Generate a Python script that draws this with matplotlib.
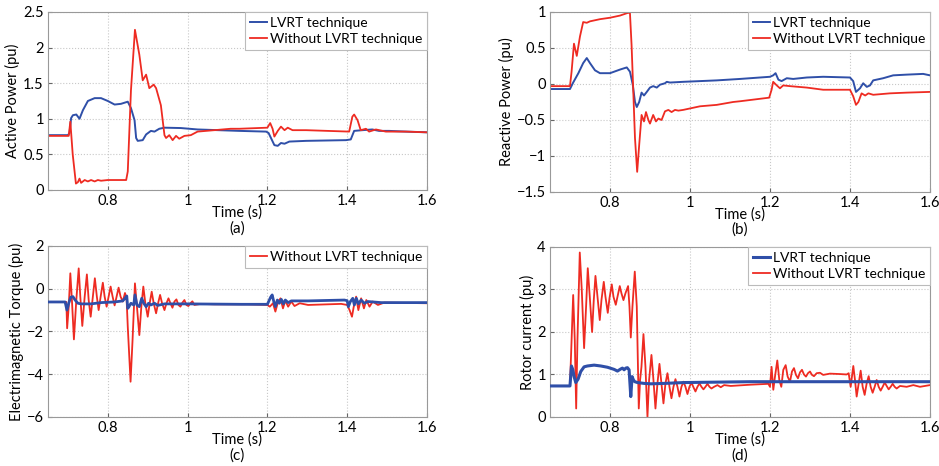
import numpy as np
import matplotlib
matplotlib.use("Agg")
import matplotlib.pyplot as plt

plt.rcParams['font.family'] = ['Lato', 'DejaVu Sans']

# (time s, value pu)
active_lvrt = [(0.65, 0.77), (0.70, 0.77), (0.704, 0.80), (0.708, 1.01), (0.7125, 1.05), (0.721, 1.06),
               (0.725, 1.03), (0.729, 1.00), (0.7375, 1.12), (0.75, 1.25), (0.767, 1.29), (0.783, 1.29),
               (0.80, 1.25), (0.817, 1.20), (0.833, 1.21), (0.85, 1.24), (0.858, 1.15), (0.867, 0.98),
               (0.871, 0.73), (0.875, 0.69), (0.8875, 0.70), (0.896, 0.78), (0.908, 0.83), (0.917, 0.82),
               (0.929, 0.86), (0.942, 0.875), (0.983, 0.87), (1.025, 0.85), (1.13, 0.83), (1.197, 0.82),
               (1.203, 0.80), (1.209, 0.73), (1.2175, 0.63), (1.226, 0.62), (1.234, 0.66), (1.243, 0.65),
               (1.255, 0.68), (1.297, 0.69), (1.397, 0.70), (1.409, 0.71), (1.4175, 0.83), (1.438, 0.84),
               (1.463, 0.85), (1.48, 0.83), (1.505, 0.83), (1.547, 0.82), (1.60, 0.81)]
active_none = [(0.65, 0.76), (0.702, 0.76), (0.706, 0.96), (0.712, 0.50), (0.72, 0.09), (0.725, 0.11),
               (0.729, 0.16), (0.733, 0.10), (0.742, 0.14), (0.75, 0.12), (0.758, 0.14), (0.767, 0.12),
               (0.775, 0.14), (0.783, 0.13), (0.80, 0.14), (0.83, 0.14), (0.846, 0.14), (0.85, 0.26),
               (0.858, 1.40), (0.868, 2.25), (0.879, 1.90), (0.8875, 1.54), (0.896, 1.62), (0.904, 1.43),
               (0.915, 1.48), (0.921, 1.43), (0.933, 1.19), (0.942, 0.77), (0.946, 0.73), (0.954, 0.77),
               (0.9625, 0.70), (0.971, 0.76), (0.979, 0.72), (0.992, 0.76), (1.008, 0.77), (1.025, 0.82),
               (1.067, 0.84), (1.108, 0.86), (1.13, 0.86), (1.20, 0.875), (1.207, 0.94), (1.213, 0.86),
               (1.2175, 0.75), (1.226, 0.83), (1.234, 0.89), (1.243, 0.84), (1.251, 0.875), (1.263, 0.84),
               (1.297, 0.84), (1.405, 0.82), (1.413, 1.03), (1.4175, 1.06), (1.426, 0.98), (1.434, 0.84),
               (1.447, 0.86), (1.455, 0.82), (1.472, 0.85), (1.497, 0.82), (1.547, 0.82), (1.60, 0.81)]

reactive_lvrt = [(0.65, -0.07), (0.70, -0.07), (0.708, 0.02), (0.721, 0.15), (0.733, 0.29), (0.742, 0.36),
                 (0.75, 0.29), (0.7625, 0.19), (0.775, 0.15), (0.80, 0.15), (0.825, 0.20), (0.842, 0.23),
                 (0.85, 0.17), (0.857, -0.01), (0.8625, -0.25), (0.867, -0.32), (0.873, -0.25), (0.879, -0.12),
                 (0.885, -0.16), (0.892, -0.11), (0.90, -0.05), (0.908, -0.03), (0.917, -0.05), (0.925, -0.01),
                 (0.9375, 0.01), (0.942, 0.03), (0.95, 0.02), (0.983, 0.03), (1.025, 0.04), (1.067, 0.05),
                 (1.125, 0.07), (1.20, 0.10), (1.208, 0.12), (1.214, 0.15), (1.221, 0.06), (1.229, 0.04),
                 (1.242, 0.08), (1.258, 0.07), (1.292, 0.09), (1.333, 0.10), (1.40, 0.09), (1.408, 0.04),
                 (1.415, -0.11), (1.425, -0.06), (1.433, 0.01), (1.442, -0.04), (1.45, -0.02), (1.458, 0.05),
                 (1.483, 0.08), (1.508, 0.12), (1.542, 0.13), (1.583, 0.14), (1.60, 0.12)]
reactive_none = [(0.65, -0.03), (0.70, -0.03), (0.704, 0.17), (0.71, 0.56), (0.717, 0.39), (0.725, 0.66),
                 (0.733, 0.86), (0.742, 0.85), (0.75, 0.87), (0.775, 0.90), (0.80, 0.92), (0.825, 0.95),
                 (0.846, 0.99), (0.85, 0.98), (0.854, 0.54), (0.858, -0.06), (0.8625, -0.75), (0.868, -1.22),
                 (0.873, -0.85), (0.879, -0.43), (0.885, -0.52), (0.89, -0.39), (0.896, -0.50), (0.90, -0.55),
                 (0.908, -0.43), (0.915, -0.52), (0.921, -0.48), (0.929, -0.50), (0.9375, -0.38), (0.946, -0.36),
                 (0.954, -0.39), (0.9625, -0.36), (0.971, -0.37), (0.983, -0.36), (1.025, -0.31), (1.067, -0.29),
                 (1.108, -0.25), (1.125, -0.24), (1.198, -0.19), (1.204, -0.08), (1.208, 0.03), (1.217, -0.02),
                 (1.225, -0.06), (1.233, -0.02), (1.25, -0.03), (1.292, -0.05), (1.333, -0.08), (1.40, -0.08),
                 (1.408, -0.17), (1.415, -0.29), (1.421, -0.25), (1.429, -0.13), (1.438, -0.16), (1.446, -0.13),
                 (1.458, -0.15), (1.50, -0.13), (1.542, -0.12), (1.60, -0.11)]

torque_lvrt = [(0.65, -0.62), (0.693, -0.62), (0.6975, -1.00), (0.702, -0.68), (0.707, -0.40), (0.7125, -0.37),
               (0.718, -0.53), (0.725, -0.68), (0.733, -0.71), (0.758, -0.71), (0.783, -0.65), (0.817, -0.62),
               (0.8375, -0.57), (0.843, -0.45), (0.8475, -0.34), (0.85, -0.92), (0.853, -0.84), (0.858, -0.68),
               (0.865, -0.76), (0.868, -0.29), (0.873, -0.76), (0.879, -0.84), (0.885, -0.45), (0.89, -0.68),
               (0.896, -0.84), (0.902, -0.68), (0.908, -0.76), (0.917, -0.68), (0.925, -0.78), (0.942, -0.71),
               (1.0, -0.71), (1.135, -0.73), (1.20, -0.73), (1.208, -0.40), (1.212, -0.29), (1.216, -0.60),
               (1.22, -0.84), (1.225, -0.53), (1.23, -0.68), (1.235, -0.50), (1.24, -0.71), (1.245, -0.53),
               (1.252, -0.65), (1.26, -0.57), (1.302, -0.57), (1.393, -0.53), (1.40, -0.56), (1.403, -0.84),
               (1.408, -0.60), (1.414, -0.45), (1.418, -0.76), (1.423, -0.45), (1.428, -0.71), (1.435, -0.53),
               (1.443, -0.68), (1.452, -0.60), (1.485, -0.65), (1.60, -0.65)]
torque_none = [(0.65, -0.62), (0.696, -0.62), (0.698, -1.85), (0.702, -0.84), (0.706, 0.72), (0.71, -0.53),
               (0.715, -2.37), (0.721, -0.53), (0.727, 0.95), (0.731, -0.37), (0.736, -1.74), (0.742, -0.37),
               (0.7475, 0.67), (0.752, -0.53), (0.757, -1.31), (0.7625, -0.37), (0.7675, 0.49), (0.7725, -0.37),
               (0.777, -1.00), (0.782, -0.37), (0.7875, 0.28), (0.792, -0.37), (0.797, -0.84), (0.802, -0.37),
               (0.807, 0.10), (0.812, -0.37), (0.817, -0.78), (0.822, -0.37), (0.827, 0.05), (0.832, -0.37),
               (0.8375, -0.60), (0.843, -0.20), (0.847, -0.45), (0.85, -1.78), (0.857, -4.35), (0.862, -2.40),
               (0.868, 0.25), (0.873, -0.84), (0.879, -2.17), (0.884, -0.84), (0.889, 0.10), (0.894, -0.68),
               (0.90, -1.31), (0.905, -0.68), (0.91, -0.14), (0.915, -0.68), (0.921, -1.15), (0.926, -0.68),
               (0.931, -0.29), (0.936, -0.68), (0.942, -1.00), (0.947, -0.68), (0.952, -0.45), (0.957, -0.68),
               (0.962, -0.89), (0.967, -0.60), (0.972, -0.50), (0.977, -0.76), (0.982, -0.84), (0.987, -0.65),
               (0.992, -0.53), (0.997, -0.76), (1.002, -0.81), (1.007, -0.68), (1.012, -0.59), (1.017, -0.76),
               (1.033, -0.71), (1.067, -0.73), (1.15, -0.73), (1.20, -0.76), (1.206, -0.84), (1.214, -0.68),
               (1.22, -1.07), (1.227, -0.60), (1.233, -0.45), (1.239, -0.92), (1.245, -0.56), (1.252, -0.84),
               (1.26, -0.60), (1.268, -0.81), (1.281, -0.68), (1.302, -0.76), (1.385, -0.71), (1.40, -0.76),
               (1.406, -1.00), (1.412, -1.31), (1.418, -0.68), (1.4225, -0.37), (1.428, -1.00), (1.435, -0.45),
               (1.442, -0.92), (1.448, -0.53), (1.456, -0.84), (1.464, -0.60), (1.477, -0.76), (1.493, -0.65),
               (1.60, -0.68)]

rotor_lvrt = [(0.65, 0.73), (0.70, 0.73), (0.7037, 1.20), (0.7072, 1.11), (0.7103, 0.95), (0.7145, 0.81),
              (0.7203, 0.89), (0.727, 1.07), (0.7353, 1.18), (0.7437, 1.20), (0.7603, 1.22), (0.777, 1.20),
              (0.7937, 1.17), (0.8103, 1.12), (0.8187, 1.08), (0.827, 1.13), (0.8312, 1.15), (0.8353, 1.11),
              (0.8395, 1.15), (0.8437, 1.16), (0.8478, 1.11), (0.852, 0.48), (0.8553, 0.95), (0.8587, 0.87),
              (0.862, 0.83), (0.8687, 0.81), (0.8853, 0.79), (0.902, 0.78), (0.9353, 0.79), (0.9853, 0.81),
              (1.152, 0.83), (1.40, 0.83), (1.60, 0.83)]
rotor_none = [(0.65, 0.73), (0.70, 0.73), (0.704, 1.81), (0.708, 2.87), (0.712, 1.81), (0.7155, 0.20),
              (0.7187, 1.81), (0.7245, 3.87), (0.7295, 2.99), (0.7353, 1.62), (0.7403, 2.60), (0.7445, 3.50),
              (0.7495, 2.83), (0.7553, 2.00), (0.7595, 2.75), (0.7637, 3.32), (0.7687, 2.83), (0.7745, 2.28),
              (0.7787, 2.75), (0.7845, 3.18), (0.7887, 2.83), (0.7945, 2.45), (0.7987, 2.79), (0.8045, 3.12),
              (0.8087, 2.83), (0.8145, 2.64), (0.8187, 2.83), (0.8245, 3.08), (0.8287, 2.91), (0.8337, 2.75),
              (0.8387, 2.91), (0.8453, 3.08), (0.8487, 2.60), (0.852, 1.87), (0.8562, 2.60), (0.862, 3.42),
              (0.867, 2.60), (0.872, 0.20), (0.8753, 0.87), (0.8787, 1.18), (0.8837, 1.95), (0.8887, 1.18),
              (0.8937, 0.00), (0.8978, 0.87), (0.9037, 1.46), (0.9087, 0.87), (0.9137, 0.20), (0.9187, 0.79),
              (0.9237, 1.25), (0.9287, 0.79), (0.9337, 0.32), (0.9387, 0.79), (0.9437, 1.03), (0.9487, 0.71),
              (0.9537, 0.44), (0.9587, 0.71), (0.9637, 0.89), (0.9687, 0.71), (0.9737, 0.48), (0.9787, 0.71),
              (0.9837, 0.83), (0.9887, 0.71), (0.9937, 0.54), (0.9987, 0.71), (1.0037, 0.81), (1.0087, 0.70),
              (1.0137, 0.60), (1.0187, 0.71), (1.0237, 0.79), (1.0287, 0.71), (1.0337, 0.65), (1.0387, 0.71),
              (1.0437, 0.78), (1.0487, 0.71), (1.0537, 0.67), (1.0603, 0.71), (1.0687, 0.75), (1.077, 0.70),
              (1.0853, 0.75), (1.102, 0.73), (1.152, 0.76), (1.196, 0.78), (1.20, 0.71), (1.204, 1.18),
              (1.2083, 0.64), (1.2125, 0.95), (1.2183, 1.33), (1.2233, 0.87), (1.2283, 0.71), (1.2333, 1.11),
              (1.2392, 1.22), (1.2442, 0.95), (1.25, 0.83), (1.255, 1.07), (1.26, 1.15), (1.265, 0.99),
              (1.27, 0.91), (1.275, 1.05), (1.28, 1.11), (1.285, 1.00), (1.29, 0.95), (1.295, 1.03),
              (1.30, 1.07), (1.305, 0.99), (1.31, 0.96), (1.3167, 1.03), (1.325, 1.04), (1.333, 0.99),
              (1.35, 1.02), (1.375, 1.01), (1.3917, 1.00), (1.3967, 1.03), (1.4017, 0.71), (1.4083, 1.20),
              (1.4125, 0.87), (1.4167, 0.48), (1.4217, 0.79), (1.4267, 1.09), (1.4317, 0.71), (1.4367, 0.52),
              (1.4417, 0.79), (1.4467, 0.96), (1.4517, 0.71), (1.4567, 0.57), (1.4617, 0.71), (1.4667, 0.87),
              (1.4717, 0.71), (1.4767, 0.62), (1.4817, 0.71), (1.4867, 0.81), (1.4917, 0.73), (1.4967, 0.65),
              (1.5017, 0.71), (1.5067, 0.78), (1.5117, 0.71), (1.5167, 0.67), (1.525, 0.73), (1.5417, 0.71),
              (1.5583, 0.75), (1.575, 0.71), (1.60, 0.75)]

xticks = [0.8, 1.0, 1.2, 1.4, 1.6]
xtick_labels = ['0.8', '1', '1.2', '1.4', '1.6']

BLUE = '#2f4fa8'
RED = '#ee2b22'


def draw(ax, lvrt, none, ylabel, ylim, yticks, ytick_labels, tag, tag_y,
         lvrt_label=True, lw_blue=1.4):
    t, v = zip(*lvrt)
    ax.plot(t, v, color=BLUE, lw=lw_blue, label='LVRT technique' if lvrt_label else '_nolegend_',
            zorder=3 if lw_blue > 1.5 else 2, solid_joinstyle='round')
    t, v = zip(*none)
    ax.plot(t, v, color=RED, lw=1.3, label='Without LVRT technique', zorder=2,
            solid_joinstyle='round')
    ax.set_xlim(0.65, 1.6)
    ax.set_ylim(*ylim)
    ax.set_xticks(xticks)
    ax.set_xticklabels(xtick_labels)
    ax.set_yticks(yticks)
    ax.set_yticklabels(ytick_labels)
    ax.grid(True, color='#c8c8c8', linestyle=':', linewidth=0.8)
    ax.tick_params(direction='in', length=3, labelsize=10.5, pad=3, color='#666666')
    for s in ax.spines.values():
        s.set_color('#999999')
        s.set_linewidth(0.8)
    ax.set_ylabel(ylabel, fontsize=10.5, labelpad=2)
    ax.set_xlabel('Time (s)', fontsize=10.5, labelpad=-2)
    ax.text(0.5, tag_y, tag, transform=ax.transAxes, ha='center', va='center', fontsize=11)
    leg = ax.legend(loc='upper right', fontsize=10, borderaxespad=0, handlelength=1.2,
                    handletextpad=0.2, borderpad=0.35, labelspacing=0.3, fancybox=False, framealpha=1)
    leg.get_frame().set_edgecolor('#bbbbbb')
    leg.get_frame().set_linewidth(0.8)


fig = plt.figure(figsize=(9.39, 4.66), dpi=100)
ax_a = fig.add_axes([0.0511, 0.5923, 0.4036, 0.382])
ax_b = fig.add_axes([0.5857, 0.588, 0.4047, 0.3863])
ax_c = fig.add_axes([0.0511, 0.1052, 0.4036, 0.367])
ax_d = fig.add_axes([0.5857, 0.1052, 0.4047, 0.3648])

draw(ax_a, active_lvrt, active_none, 'Active Power (pu)', (0, 2.5),
     [0, 0.5, 1, 1.5, 2, 2.5], ['0', '0.5', '1', '1.5', '2', '2.5'], '(a)', -0.215)
draw(ax_b, reactive_lvrt, reactive_none, 'Reactive Power (pu)', (-1.5, 1),
     [-1.5, -1, -0.5, 0, 0.5, 1], ['\u22121.5', '\u22121', '\u22120.5', '0', '0.5', '1'], '(b)', -0.21)
draw(ax_c, torque_lvrt, torque_none, 'Electrimagnetic Torque (pu)', (-6, 2),
     [-6, -4, -2, 0, 2], ['\u22126', '\u22124', '\u22122', '0', '2'], '(c)', -0.225,
     lvrt_label=False, lw_blue=2.0)
draw(ax_d, rotor_lvrt, rotor_none, 'Rotor current (pu)', (0, 4),
     [0, 1, 2, 3, 4], ['0', '1', '2', '3', '4'], '(d)', -0.225, lw_blue=2.2)

fig.savefig('out.png', dpi=100)
